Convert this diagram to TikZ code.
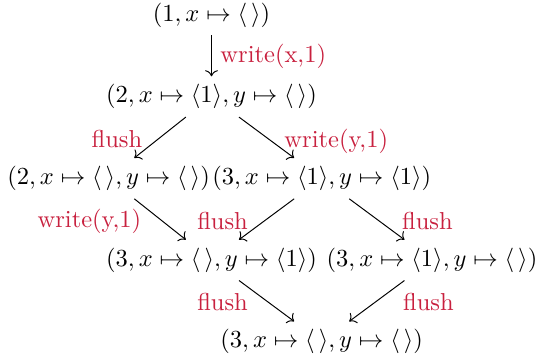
\documentclass[tikz,border=0pt]{standalone}
\usepackage{amsmath}
\usetikzlibrary{arrows.meta}
\definecolor{lblred}{RGB}{200,32,62}
\newcommand{\myemp}{\langle\,\rangle}
\begin{document}
\begin{tikzpicture}[x=0.40816pt,y=-0.40816pt,
  st/.style={inner sep=3.33pt, outer sep=0pt},
  lbl/.style={text=lblred, inner sep=0pt},
  arr/.style={-{Computer Modern Rightarrow}, line width=0.4pt}]
\useasboundingbox (0,0) rectangle (541,359);
% columns 109.2, 211.5, 321.7, 432 ; rows 15, 96.7, 178.4, 260.1, 341.8
\node[st] (n1) at (211.5,15)    {$(1, x\mapsto\myemp)$};
\node[st] (n2) at (211.5,96.7)  {$(2, x\mapsto\langle 1\rangle, y\mapsto\myemp)$};
\node[st] (n3) at (108.6,178.4) {$(2, x\mapsto\myemp, y\mapsto\myemp)$};
\node[st] (n4) at (321.7,178.4) {$(3, x\mapsto\langle 1\rangle, y\mapsto\langle 1\rangle)$};
\node[st] (n5) at (211.5,260.1) {$(3, x\mapsto\myemp, y\mapsto\langle 1\rangle)$};
\node[st] (n6) at (432,260.1)   {$(3, x\mapsto\langle 1\rangle, y\mapsto\myemp)$};
\node[st] (n7) at (321.7,341.8) {$(3, x\mapsto\myemp, y\mapsto\myemp)$};

\draw[arr] (n1) -- (n2);
\draw[arr] (n2) -- (n3);
\draw[arr] (n2) -- (n4);
\draw[arr] (n3) -- (n5);
\draw[arr] (n4) -- (n5);
\draw[arr] (n4) -- (n6);
\draw[arr] (n5) -- (n7);
\draw[arr] (n6) -- (n7);

\node[lbl, anchor=west] (l12) at (220,56)      {write(x,1)};
\node[lbl, anchor=east] (l23) at (142.7,139)   {flush};
\node[lbl, anchor=west] (l24) at (284,141)     {write(y,1)};
\node[lbl, anchor=east] (l35) at (141.7,221)   {write(y,1)};
\node[lbl, anchor=east] (l45) at (248.3,221.5) {flush};
\node[lbl, anchor=west] (l46) at (401.7,221.5) {flush};
\node[lbl, anchor=east] (l57) at (248.3,301.7) {flush};
\node[lbl, anchor=west] (l67) at (402.7,301.7) {flush};
\end{tikzpicture}
\end{document}
